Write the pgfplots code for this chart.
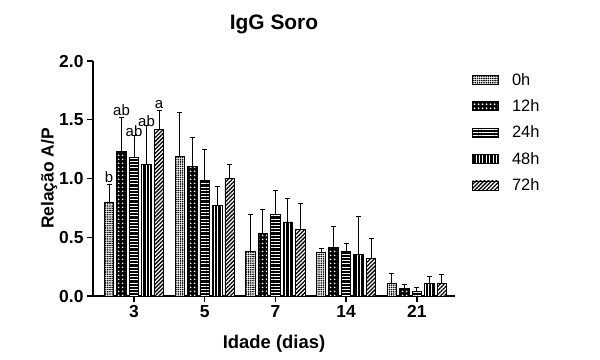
\documentclass[border=0pt]{standalone}
\usepackage{fontspec}
\setmainfont{Liberation Sans}
\usepackage{pgfplots}
\pgfplotsset{compat=1.18}
\usetikzlibrary{patterns,patterns.meta}

\pgfplotstableread{
x y e
0 0.80 0.15
1 1.19 0.37
2 0.38 0.31
3 0.37 0.035
4 0.11 0.08
}\tzero
\pgfplotstableread{
x y e
0 1.23 0.29
1 1.10 0.25
2 0.53 0.21
3 0.41 0.18
4 0.06 0.035
}\ttwelve
\pgfplotstableread{
x y e
0 1.18 0.19
1 0.98 0.27
2 0.69 0.21
3 0.38 0.065
4 0.04 0.035
}\ttwentyfour
\pgfplotstableread{
x y e
0 1.12 0.33
1 0.77 0.16
2 0.63 0.20
3 0.35 0.33
4 0.11 0.06
}\tfortyeight
\pgfplotstableread{
x y e
0 1.42 0.155
1 1.00 0.12
2 0.57 0.22
3 0.32 0.17
4 0.11 0.07
}\tseventytwo

\pgfplotsset{
  s0/.style={draw=black, line width=0.9bp, fill=white, postaction={pattern={Dots[distance=2.2bp, radius=0.9bp]}, pattern color=black}},
  s12/.style={draw=black, line width=0.9bp, fill=black, postaction={pattern={Dots[distance=3.6bp, radius=1.1bp]}, pattern color=white}},
  s24/.style={draw=black, line width=0.9bp, fill=black, postaction={pattern={Lines[angle=0, distance=3.2bp, line width=1bp]}, pattern color=white}},
  s48/.style={draw=black, line width=0.9bp, fill=black, postaction={pattern={Lines[angle=90, distance=3.4bp, line width=1bp]}, pattern color=white}},
  s72/.style={draw=black, line width=0.9bp, fill=white, postaction={pattern={Lines[angle=45, distance=2.8bp, line width=1.3bp]}, pattern color=black}},
}

\begin{document}
\begin{tikzpicture}
\path[use as bounding box] (0,0) rectangle (600bp,360bp);
\begin{axis}[
  at={(93bp,64bp)}, anchor=south west,
  scale only axis, width=362bp, height=235bp,
  ybar=3bp, bar width=9.5bp,
  xmin=-0.58, xmax=4.54, ymin=0, ymax=2,
  axis x line*=bottom, axis y line*=left,
  axis line style={-, line width=1.4bp},
  xtick={0,1,2,3,4}, xticklabels={3,5,7,14,21},
  ytick={0,0.5,1,1.5,2},
  yticklabel style={/pgf/number format/fixed, /pgf/number format/fixed zerofill, /pgf/number format/precision=1},
  /pgf/number format/assume math mode=true,
  tick style={line width=1.4bp, black},
  tick align=outside, major tick length=6bp,
  ticklabel style={font=\bfseries\fontsize{17.5}{17.5}\selectfont},
  title={IgG Soro},
  title style={font=\bfseries\fontsize{21}{21}\selectfont, at={(0.5,1)}, anchor=center, yshift=31bp},
  xlabel={Idade (dias)},
  xlabel style={font=\bfseries\fontsize{18.5}{18.5}\selectfont, at={(0.5,0)}, anchor=center, yshift=-48bp},
  ylabel={Relação A/P},
  ylabel style={font=\bfseries\fontsize{17.5}{17.5}\selectfont, at={(0,0.5)}, anchor=center, yshift=44bp},
  legend image code/.code={\draw[#1] (0bp,-4.5bp) rectangle (26bp,4.5bp);},
  legend style={at={(1,1)}, anchor=north west, xshift=17bp, yshift=-10bp, draw=none, fill=none,
    font=\fontsize{16.5}{16.5}\selectfont, row sep=9bp, inner sep=0pt,
    /tikz/every odd column/.append style={column sep=11bp}},
  legend cell align=left,
  error bars/y dir=plus, error bars/y explicit,
  error bars/error bar style={line width=1bp, black},
  error bars/error mark options={rotate=90, mark size=2.5bp, line width=1bp, black},
]
\addplot[s0] table[x=x, y=y, y error=e]{\tzero};
\addplot[s12] table[x=x, y=y, y error=e]{\ttwelve};
\addplot[s24] table[x=x, y=y, y error=e]{\ttwentyfour};
\addplot[s48] table[x=x, y=y, y error=e]{\tfortyeight};
\addplot[s72] table[x=x, y=y, y error=e]{\tseventytwo};
\legend{0h,12h,24h,48h,72h}
\node[font=\fontsize{15}{15}\selectfont] at (axis cs:0,1.013) [xshift=-25bp] {b};
\node[font=\fontsize{15}{15}\selectfont] at (axis cs:0,1.583) [xshift=-12.5bp] {ab};
\node[font=\fontsize{15}{15}\selectfont] at (axis cs:0,1.40) {ab};
\node[font=\fontsize{15}{15}\selectfont] at (axis cs:0,1.49) [xshift=12.5bp] {ab};
\node[font=\fontsize{15}{15}\selectfont] at (axis cs:0,1.63) [xshift=25bp] {a};
\end{axis}
\end{tikzpicture}
\end{document}
